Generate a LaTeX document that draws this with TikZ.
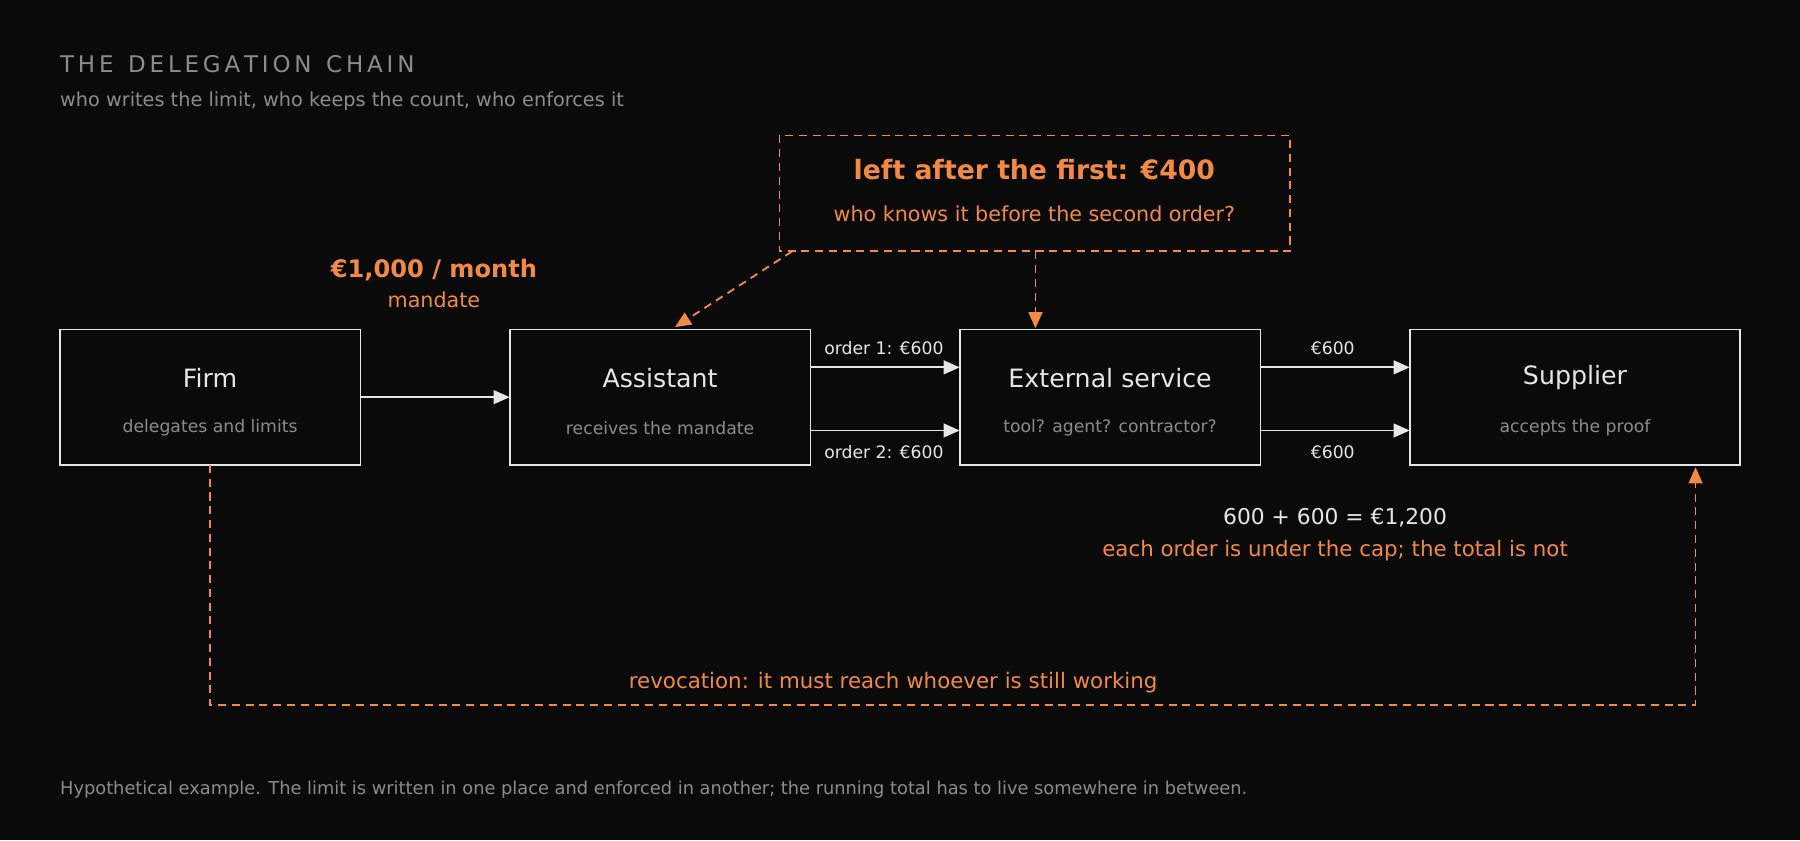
\documentclass[tikz,border=0pt]{standalone}
\usepackage{fontspec}
\setmainfont{DejaVu Sans}
\usetikzlibrary{arrows.meta}
\definecolor{bg}{HTML}{0A0A0A}
\definecolor{org}{HTML}{F28A45}
\definecolor{gr}{HTML}{8C8C8C}
\definecolor{wh}{HTML}{E6E6E6}
\newcommand{\fs}[1]{\fontsize{#1}{#1}\selectfont}
\begin{document}
\begin{tikzpicture}[x=0.5pt,y=-0.5pt,
  box/.style={draw=wh,line width=0.8pt,fill=bg},
  arr/.style={draw=wh,line width=0.8pt,-{Triangle[length=7pt,width=6pt]}},
  darr/.style={draw=org,line width=0.8pt,dash pattern=on 3.5pt off 2.5pt,-{Triangle[length=7pt,width=6pt]}},
  ttl/.style={text=wh,font=\fs{11pt}},
  sub/.style={text=gr,font=\fs{7.5pt}},
  lbl/.style={text=wh,font=\fs{7.5pt}}]
\fill[bg] (0,0) rectangle (1568,732);
\useasboundingbox (0,0) rectangle (1568,732);
\node[anchor=west,inner sep=0pt,text=gr,font=\fs{10pt}] (t) at (52,56) {T\,H\,E\ \ D\,E\,L\,E\,G\,A\,T\,I\,O\,N\ \ C\,H\,A\,I\,N};
\node[anchor=west,inner sep=0pt,text=gr,font=\fs{8.4pt}] (st) at (52,88) {who writes the limit, who keeps the count, who enforces it};
% boxes
\draw[box] (52,287) rectangle (314,405);
\node[ttl] (f1) at (183,329) {Firm}; \node[sub] (f2) at (183,373) {delegates and limits};
\draw[box] (444,287) rectangle (706,405);
\node[ttl] (a1) at (575,329) {Assistant}; \node[sub] (a2) at (575,373) {receives the mandate};
\draw[box] (836,287) rectangle (1098,405);
\node[ttl] (e1) at (967,329) {External service}; \node[sub] (e2) at (967,373) {tool? agent? contractor?};
\draw[box] (1228,287) rectangle (1516,405);
\node[ttl] (s1) at (1372,329) {Supplier}; \node[sub] (s2) at (1372,373) {accepts the proof};
% coordinates
\coordinate (fr) at (314,346); \coordinate (al) at (444,346);
\coordinate (ar1) at (706,320); \coordinate (el1) at (836,320);
\coordinate (ar2) at (706,375); \coordinate (el2) at (836,375);
\coordinate (er1) at (1098,320); \coordinate (sl1) at (1228,320);
\coordinate (er2) at (1098,375); \coordinate (sl2) at (1228,375);
\draw[arr] (fr) -- (al);
\draw[arr] (ar1) -- (el1); \draw[arr] (ar2) -- (el2);
\draw[arr] (er1) -- (sl1); \draw[arr] (er2) -- (sl2);
\node[lbl] (o1) at (770,303) {order 1: €600};
\node[lbl] (o2) at (770,394) {order 2: €600};
\node[lbl] (p1) at (1161,303) {€600};
\node[lbl] (p2) at (1161,394) {€600};
% mandate
\node[text=org,font=\fs{10.5pt}\bfseries] (m1) at (378,235) {€1,000 / month};
\node[text=org,font=\fs{9pt}] (m2) at (378,261) {mandate};
% dashed box
\draw[draw=org,line width=0.8pt,dash pattern=on 3.5pt off 2.5pt] (679,118) rectangle (1124,219);
\node[text=org,font=\fs{11.6pt}\bfseries] (d1) at (901,148) {left after the first: €400};
\node[text=org,font=\fs{9pt}] (d2) at (901,186) {who knows it before the second order?};
\coordinate (dbl) at (690,219); \coordinate (at) at (588,285);
\coordinate (dbm) at (902,219); \coordinate (et) at (902,286);
\draw[darr] (dbl) -- (at);
\draw[darr] (dbm) -- (et);
% sum
\node[text=wh,font=\fs{9.5pt}] (sum) at (1163,451) {600 + 600 = €1,200};
\node[text=org,font=\fs{9.3pt}] (cap) at (1163,480) {each order is under the cap; the total is not};
% revocation
\coordinate (fb) at (183,405); \coordinate (sb) at (1477,407);
\draw[darr] (fb) -- (183,614) -- (1477,614) -- (sb);
\node[text=org,font=\fs{9.3pt}] (rv) at (778,595) {revocation: it must reach whoever is still working};
\node[anchor=west,inner sep=0pt,text=gr,font=\fs{7.75pt}] (ft) at (52,688) {Hypothetical example. The limit is written in one place and enforced in another; the running total has to live somewhere in between.};
\end{tikzpicture}
\end{document}
